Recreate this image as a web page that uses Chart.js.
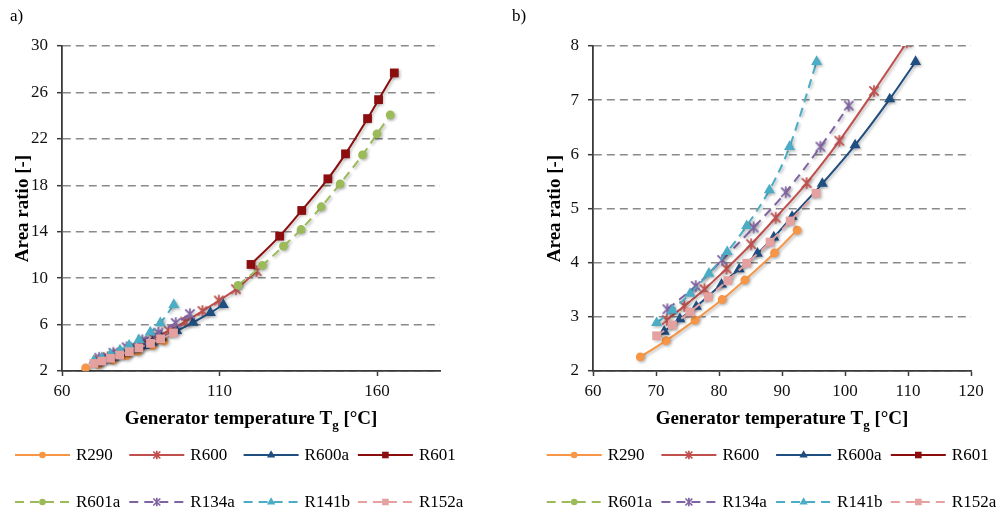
<!DOCTYPE html>
<html><head><meta charset="utf-8">
<script src="https://cdn.jsdelivr.net/npm/chart.js@4/dist/chart.umd.min.js"></script>
<style>
html,body{margin:0;padding:0;background:#fff;}
#wrap{position:relative;width:996px;height:510px;overflow:hidden;}
.pane{position:absolute;top:0;width:498px;height:510px;}
</style></head><body>
<div id="wrap">
<div class="pane" style="left:0"><canvas id="ca" width="498" height="510"></canvas></div>
<div class="pane" style="left:498px"><canvas id="cb" width="498" height="510"></canvas></div>
</div>
<script>
// ---- data (generator temperature [°C] and area ratio [-]) ----
const seriesNames = ['R290','R600','R600a','R601','R601a','R134a','R141b','R152a'];
const r290T  = [67.5,71.6,76.2,80.5,84.1,88.8,92.4];
const r290A  = [2.26,2.56,2.94,3.32,3.68,4.18,4.60];
const r600T  = [71.7,74.5,77.7,81.2,85.1,89.0,93.9,99.1,104.6,109.8,115.2,121.8];
const r600A  = [2.94,3.20,3.51,3.89,4.34,4.83,5.47,6.25,7.17,8.07,9.05,10.6];
const r600aT = [71.3,73.8,76.4,80.4,83.2,86.1,88.7,91.6,96.4,101.6,107.1,111.2];
const r600aA = [2.73,2.96,3.19,3.60,3.88,4.17,4.47,4.85,5.46,6.17,7.02,7.71];
const r601T  = [120.0,129.1,136.1,144.4,150.0,157.0,160.5,165.5];
const r601A  = [11.18,13.62,15.83,18.56,20.71,23.75,25.38,27.68];
const r601aT = [115.9,123.6,130.3,135.9,142.3,148.3,155.4,160.0,164.2];
const r601aA = [9.38,11.10,12.76,14.19,16.15,18.13,20.62,22.43,24.06];
const r134aT = [71.8,76.3,80.5,85.5,90.6,96.1,100.6];
const r134aA = [3.14,3.57,4.05,4.65,5.30,6.14,6.90];
const r141bT = [70.1,72.6,75.4,78.4,81.3,84.4,88.0,91.2,95.5];
const r141bA = [2.89,3.12,3.43,3.80,4.20,4.68,5.34,6.14,7.71];
const r152aT = [70.1,72.6,75.4,78.3,81.4,84.4,88.1,91.3,95.4];
const r152aA = [2.65,2.85,3.09,3.37,3.67,3.99,4.38,4.77,5.28];

const xTicksA = [60,110,160];
const yTicksA = [2,6,10,14,18,22,26,30];
const xTicksB = [60,70,80,90,100,110,120];
const yTicksB = [2,3,4,5,6,7,8];

const xTitle = ['Generator temperature T','g',' [°C]'];
const yTitle = 'Area ratio [-]';

// ---- styles ----
const temps = [r290T,r600T,r600aT,r601T,r601aT,r134aT,r141bT,r152aT];
const ratios = [r290A,r600A,r600aA,r601A,r601aA,r134aA,r141bA,r152aA];
const colors = ['#F79646','#C0504D','#1F4E80','#8B0D0D','#9BBB59','#8064A2','#4BACC6','#E5A0A0'];
const markers = ['circle','asterisk','triangle','rect','circle','asterisk','triangle','rect'];
const radii = [4.4,5.8,6.4,6.2,4.4,5.8,6.4,6.2];
const dashed = [false,false,false,false,true,true,true,true];
const SERIF = "'Liberation Serif','Times New Roman',serif";

function drawMarker(ctx, style, x, y, r, color) {
  ctx.save();
  ctx.fillStyle = color; ctx.strokeStyle = color; ctx.lineWidth = 1.7; ctx.setLineDash([]);
  ctx.beginPath();
  if (style === 'circle') { ctx.arc(x, y, r, 0, Math.PI*2); ctx.fill(); }
  else if (style === 'rect') { const s = r*Math.SQRT1_2; ctx.rect(x-s, y-s, 2*s, 2*s); ctx.fill(); }
  else if (style === 'triangle') {
    let a = 0;
    ctx.moveTo(x + Math.sin(a)*r, y - Math.cos(a)*r);
    a += 2*Math.PI/3; ctx.lineTo(x + Math.sin(a)*r, y - Math.cos(a)*r);
    a += 2*Math.PI/3; ctx.lineTo(x + Math.sin(a)*r, y - Math.cos(a)*r);
    ctx.closePath(); ctx.fill();
  } else {
    const d = r*0.8;
    ctx.moveTo(x-d, y-d); ctx.lineTo(x+d, y+d);
    ctx.moveTo(x-d, y+d); ctx.lineTo(x+d, y-d);
    ctx.moveTo(x, y-r); ctx.lineTo(x, y+r);
    ctx.stroke();
  }
  ctx.restore();
}

function asteriskImage(r, color) {
  const c = document.createElement('canvas');
  const s = Math.ceil(2*r + 4);
  c.width = s; c.height = s;
  drawMarker(c.getContext('2d'), 'asterisk', s/2, s/2, r, color);
  return c;
}

const shadowPlugin = {
  id: 'shadow',
  beforeDatasetsDraw(chart) {
    const c = chart.ctx; c.save();
    c.shadowColor = 'rgba(0,0,0,0.28)'; c.shadowBlur = 3; c.shadowOffsetX = 1.5; c.shadowOffsetY = 1.5;
  },
  afterDatasetsDraw(chart) { chart.ctx.restore(); }
};

const decorPlugin = {
  id: 'decor',
  afterDraw(chart) {
    const o = chart.options.plugins.decor;
    const ctx = chart.ctx, ca = chart.chartArea;
    ctx.save();
    ctx.fillStyle = '#000';
    // panel label
    ctx.font = '17px ' + SERIF; ctx.textBaseline = 'middle'; ctx.textAlign = 'left';
    ctx.fillText(o.panel, o.panelX, 17);
    // x title with subscript
    const big = 'bold 19px ' + SERIF, small = 'bold 13px ' + SERIF;
    ctx.font = big; const w1 = ctx.measureText(xTitle[0]).width, w3 = ctx.measureText(xTitle[2]).width;
    ctx.font = small; const w2 = ctx.measureText(xTitle[1]).width;
    let x = (ca.left + ca.right)/2 - (w1+w2+w3)/2; const yb = 424;
    ctx.textBaseline = 'alphabetic';
    ctx.font = big; ctx.fillText(xTitle[0], x, yb); x += w1;
    ctx.font = small; ctx.fillText(xTitle[1], x, yb + 5); x += w2;
    ctx.font = big; ctx.fillText(xTitle[2], x, yb);
    // legend
    ctx.font = '17px ' + SERIF; ctx.textBaseline = 'middle';
    for (let i = 0; i < seriesNames.length; i++) {
      const row = Math.floor(i/4), col = i % 4;
      const lx = o.legX + col*o.legStep, ly = row ? 502 : 455;
      ctx.save();
      ctx.strokeStyle = colors[i]; ctx.lineWidth = 2;
      ctx.setLineDash(dashed[i] ? [9,6] : []);
      ctx.beginPath(); ctx.moveTo(lx, ly); ctx.lineTo(lx+55, ly); ctx.stroke();
      ctx.restore();
      drawMarker(ctx, markers[i], lx+27.5, ly, radii[i]*0.75, colors[i]);
      ctx.fillStyle = '#000';
      ctx.fillText(seriesNames[i], lx+61, ly+1);
    }
    ctx.restore();
  }
};

function makeChart(id, xmin, xmax, xt, ymin, ymax, yt, padL, yW, padR, titlePad, deco) {
  const datasets = seriesNames.map((n, i) => ({
    label: n,
    data: temps[i].map((t, k) => ({x: t, y: ratios[i][k]})),
    borderColor: colors[i], backgroundColor: colors[i],
    borderWidth: 2, borderDash: dashed[i] ? [9,6] : [],
    pointStyle: markers[i] === 'asterisk' ? asteriskImage(radii[i], colors[i]) : markers[i],
    pointRadius: radii[i], pointHoverRadius: radii[i],
    pointBackgroundColor: colors[i], pointBorderColor: colors[i],
    pointBorderWidth: 0,
    tension: 0.35, fill: false, order: seriesNames.length - i
  }));
  return new Chart(document.getElementById(id), {
    type: 'line',
    data: { datasets },
    plugins: [shadowPlugin, decorPlugin],
    options: {
      responsive: false, animation: false, devicePixelRatio: 1,
      layout: { padding: { left: padL, right: padR, top: 46, bottom: 0 } },
      plugins: { legend: { display: false }, tooltip: { enabled: false }, decor: deco },
      scales: {
        x: {
          type: 'linear', min: xmin, max: xmax,
          afterBuildTicks: s => { s.ticks = xt.map(v => ({ value: v })); },
          afterFit: s => { s.height = 139; },
          grid: { drawOnChartArea: false, drawTicks: true, tickLength: 5, tickColor: '#3a3a3a', tickWidth: 1.5 },
          border: { color: '#3a3a3a', width: 1.8 },
          ticks: { font: { family: SERIF, size: 17 }, color: '#111', padding: 5, maxRotation: 0 }
        },
        y: {
          type: 'linear', min: ymin, max: ymax,
          afterBuildTicks: s => { s.ticks = yt.map(v => ({ value: v })); },
          afterFit: s => { s.width = yW; },
          grid: { color: '#8a8a8a', lineWidth: 1.4, drawTicks: true, tickLength: 5, tickColor: '#3a3a3a', tickWidth: 1.5 },
          border: { color: '#3a3a3a', width: 1.8, dash: [8,5] },
          ticks: { font: { family: SERIF, size: 17 }, color: '#111', padding: 9 },
          title: { display: true, text: yTitle, color: '#000', font: { family: SERIF, size: 19, weight: 'bold' }, padding: { top: titlePad, bottom: 0 } }
        }
      }
    }
  });
}

makeChart('ca', 60, 180, xTicksA, 2, 30, yTicksA, 0, 62, 58, 12, { panel: 'a)', panelX: 10, legX: 15, legStep: 114.3 });
makeChart('cb', 60, 120, xTicksB, 2, 8, yTicksB, 34, 61, 25, 12, { panel: 'b)', panelX: 14, legX: 48.7, legStep: 114.7 });
</script>
</body></html>
